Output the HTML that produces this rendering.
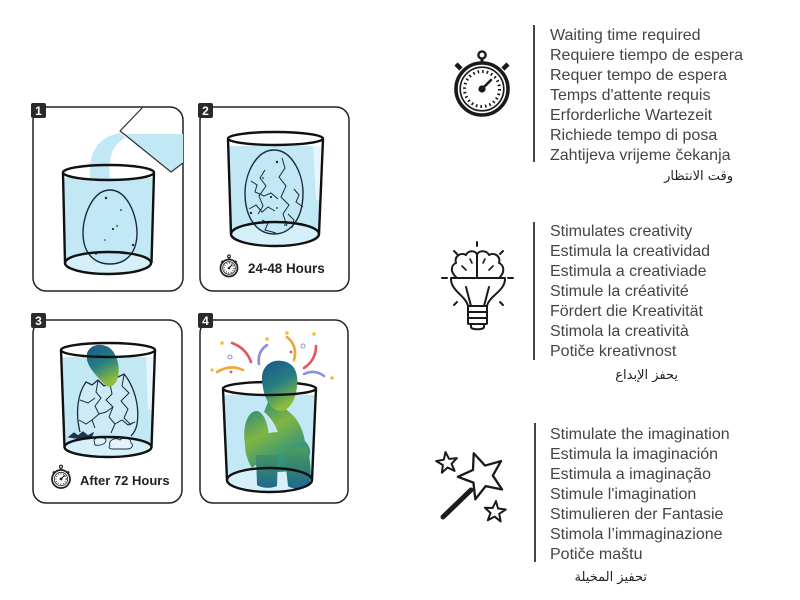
<!DOCTYPE html>
<html>
<head>
<meta charset="utf-8">
<style>
  html,body{margin:0;padding:0;background:#fff;}
  body{width:800px;height:600px;position:relative;overflow:hidden;font-family:"Liberation Sans",sans-serif;}
  svg{position:absolute;left:0;top:0;}
  .grp{position:absolute;left:550px;font-size:16px;line-height:20px;color:#444;white-space:nowrap;}
  .ar{position:absolute;font-family:"DejaVu Sans",sans-serif;font-size:13px;line-height:16px;color:#222;direction:rtl;white-space:nowrap;}
</style>
</head>
<body>
<svg width="800" height="600" viewBox="0 0 800 600" xmlns="http://www.w3.org/2000/svg">
  <defs>
    <linearGradient id="dh" x1="0" y1="0" x2="0.4" y2="1">
      <stop offset="0" stop-color="#1c5688"/>
      <stop offset="0.55" stop-color="#267f82"/>
      <stop offset="1" stop-color="#8fbd3a"/>
    </linearGradient>
    <linearGradient id="db" gradientUnits="userSpaceOnUse" x1="240" y1="360" x2="315" y2="490">
      <stop offset="0" stop-color="#1c5a8a"/>
      <stop offset="0.3" stop-color="#2a8a7c"/>
      <stop offset="0.5" stop-color="#7fb640"/>
      <stop offset="0.7" stop-color="#3a957a"/>
      <stop offset="1" stop-color="#1d6a92"/>
    </linearGradient>
    <linearGradient id="dl" gradientUnits="userSpaceOnUse" x1="0" y1="445" x2="0" y2="490">
      <stop offset="0" stop-color="#4ea05a"/>
      <stop offset="1" stop-color="#1d6590"/>
    </linearGradient>
  </defs>

  <!-- ===== Panels ===== -->
  <g fill="#fff" stroke="#222" stroke-width="1.5">
    <rect x="33" y="107" width="150" height="184" rx="13"/>
    <rect x="200" y="107" width="149" height="184" rx="13"/>
    <rect x="33" y="320" width="149" height="183" rx="13"/>
    <rect x="200" y="320" width="148" height="183" rx="13"/>
  </g>

  <!-- ===== Panel 1 ===== -->
  <path d="M64,178 L153,178 L152,263 A43,11 0 0 1 65,263 Z" fill="#c3e8f5"/>
  <ellipse cx="108" cy="263" rx="43" ry="11" fill="#d6f0fa"/>
  <path d="M120,133 C98,137 88,152 90,178 L110,178 C108,160 112,143 126,138 Z" fill="#c3e8f5"/>
  <path d="M124,134 L183,134 L183,163 L171,172 Z" fill="#c3e8f5"/>
  <path d="M143,107 L120,131 L124,134 L171,172 L183,163" fill="none" stroke="#333" stroke-width="1.2" stroke-linejoin="round"/>
  <path d="M110,190 C127,190 137,215 137,233 C137,253 126,264 110,264 C94,264 83,253 83,233 C83,215 93,190 110,190 Z" fill="#c3e8f5" stroke="#1b2b3b" stroke-width="1.4"/>
  <g fill="#1b2b3b">
    <circle cx="106" cy="198" r="1.2"/><circle cx="121" cy="210" r="0.9"/><circle cx="117" cy="226" r="0.9"/>
    <circle cx="113" cy="229" r="1.1"/><circle cx="105" cy="240" r="0.8"/><circle cx="133" cy="245" r="1.2"/><circle cx="96" cy="254" r="0.9"/>
  </g>
  <g fill="none" stroke="#111" stroke-width="2.4">
    <ellipse cx="108.5" cy="172.5" rx="45.5" ry="7.5"/>
    <line x1="63" y1="173" x2="65" y2="263"/>
    <line x1="154" y1="173" x2="151.5" y2="263"/>
    <ellipse cx="108" cy="263" rx="43" ry="11"/>
  </g>

  <!-- ===== Panel 2 ===== -->
  <path d="M229,146 L322,146 L319,234 A44,12 0 0 1 231,234 Z" fill="#c3e8f5"/>
  <path d="M313,146 L322,146 L320,200 L316,200 Z" fill="#e6f6fc"/>
  <ellipse cx="275" cy="234" rx="44" ry="12" fill="#d6f0fa"/>
  <path d="M274,150 C292,150 303,174 303,193 C303,218 291,234 274,234 C257,234 245,218 245,193 C245,174 256,150 274,150 Z" fill="#c3e8f5" stroke="#1b2b3b" stroke-width="1.4"/>
  <g fill="none" stroke="#1b2b3b" stroke-width="1">
    <polyline points="282,158 285,168 279,177 286,186 281,197 289,205 283,214 287,226"/>
    <polyline points="265,170 260,178 266,186 259,196 263,206 258,214"/>
    <polyline points="251,181 257,185 255,192 264,196 271,193 278,199"/>
    <polyline points="294,189 299,195 296,202 303,207"/>
    <polyline points="249,209 256,205 262,212 268,207 275,211"/>
    <polyline points="262,220 268,223 265,230 276,233"/>
    <polyline points="288,214 294,220 292,228"/>
  </g>
  <g fill="#1b2b3b">
    <circle cx="277" cy="162" r="1.2"/><circle cx="263" cy="178" r="0.9"/><circle cx="271" cy="197" r="1.1"/>
    <circle cx="251" cy="213" r="1.2"/><circle cx="277" cy="208" r="0.9"/><circle cx="285" cy="225" r="0.9"/>
  </g>
  <g fill="none" stroke="#111" stroke-width="2.4">
    <ellipse cx="275.5" cy="138.5" rx="47.5" ry="6.5"/>
    <line x1="228" y1="139" x2="231" y2="234"/>
    <line x1="323" y1="139" x2="319" y2="234"/>
    <ellipse cx="275" cy="234" rx="44" ry="12"/>
  </g>
  <g fill="none" stroke="#222">
    <circle cx="229" cy="268" r="8.5" stroke-width="1.8" fill="#fff"/>
    <circle cx="229" cy="268" r="6.3" stroke-width="0.8"/>
    <circle cx="229" cy="268" r="4.8" stroke-width="1.4" stroke-dasharray="0.7 1.8"/>
    <line x1="229" y1="268" x2="232.5" y2="264.5" stroke-width="1.2"/>
    <line x1="229" y1="259.5" x2="229" y2="257.5" stroke-width="1.5"/>
    <circle cx="229" cy="256.3" r="1.4" stroke-width="1.1"/>
    <line x1="221.5" y1="261" x2="223.5" y2="263" stroke-width="2"/>
    <line x1="236.5" y1="261" x2="234.5" y2="263" stroke-width="2"/>
  </g>
  <circle cx="229" cy="268" r="1.3" fill="#222"/>
  <text x="248" y="273" font-family="Liberation Sans, sans-serif" font-weight="bold" font-size="13.4" fill="#222">24-48 Hours</text>

  <!-- ===== Panel 3 ===== -->
  <path d="M62,357 L154,357 L151.5,447 A43.5,10 0 0 1 64.5,447 Z" fill="#c3e8f5"/>
  <path d="M146,357 L154,357 L152.5,410 L148,410 Z" fill="#e6f6fc"/>
  <ellipse cx="108" cy="447" rx="43.5" ry="10" fill="#d6f0fa"/>
  <path d="M80,432 C75,412 78,393 86,382 L92,385 L98,380 L104,386 L110,383 L116,378 L124,374 C134,386 140,406 137,424 C136,430 134,433 131,436" fill="#cdebf6" stroke="#1b2b3b" stroke-width="1.3"/>
  <g fill="none" stroke="#1b2b3b" stroke-width="1">
    <polyline points="98,381 96,392 101,398 95,406 99,414 92,420 95,428"/>
    <polyline points="110,384 112,394 106,400 113,407 109,417 115,424 111,433"/>
    <polyline points="124,375 122,386 129,393 121,401 128,409 124,418 131,425"/>
    <polyline points="80,400 88,403 95,398"/>
    <polyline points="99,414 106,412 113,407"/>
    <polyline points="115,424 122,420 128,425 135,422"/>
    <polyline points="79,420 86,424 92,420"/>
  </g>
  <path d="M110,446 C108,440 115,437 120,440 C124,436 131,438 131,443 C134,445 132,449 127,449 L113,449 C109,449 108,447 110,446 Z" fill="#e2f4fb" stroke="#1b2b3b" stroke-width="0.9"/>
  <path d="M94,440 C97,436 104,436 106,440 C106,444 100,446 95,445 Z" fill="#e2f4fb" stroke="#1b2b3b" stroke-width="0.9"/>
  <path d="M69,437 L74,433 L78,436 L83,432 L88,436 L93,433 L91,438 L84,439 L76,438 Z" fill="#1d3448" stroke="#1d3448" stroke-width="1.2"/>
  <path d="M87,353 C91,343 104,343 111,349 C118,356 121,370 117,380 C114,387 108,389 104,384 C98,377 89,369 87,360 Z" fill="url(#dh)"/>
  <g fill="none" stroke="#111" stroke-width="2.4">
    <ellipse cx="108" cy="350" rx="47" ry="7"/>
    <line x1="61" y1="350" x2="64.5" y2="447"/>
    <line x1="155" y1="350" x2="151.5" y2="447"/>
    <ellipse cx="108" cy="447" rx="43.5" ry="10"/>
  </g>
  <g fill="none" stroke="#222">
    <circle cx="61" cy="479" r="9" stroke-width="1.8" fill="#fff"/>
    <circle cx="61" cy="479" r="6.7" stroke-width="0.8"/>
    <circle cx="61" cy="479" r="5.1" stroke-width="1.4" stroke-dasharray="0.7 1.9"/>
    <line x1="61" y1="479" x2="64.8" y2="475.2" stroke-width="1.2"/>
    <line x1="61" y1="470" x2="61" y2="468" stroke-width="1.5"/>
    <circle cx="61" cy="466.7" r="1.5" stroke-width="1.1"/>
    <line x1="53" y1="471.5" x2="55" y2="473.5" stroke-width="2"/>
    <line x1="69" y1="471.5" x2="67" y2="473.5" stroke-width="2"/>
  </g>
  <circle cx="61" cy="479" r="1.4" fill="#222"/>
  <text x="80" y="485" font-family="Liberation Sans, sans-serif" font-weight="bold" font-size="13" fill="#222">After 72 Hours</text>

  <!-- ===== Panel 4 ===== -->
  <path d="M224,395 L315,395 L312,480 A42.5,12 0 0 1 227,480 Z" fill="#c3e8f5"/>
  <ellipse cx="269.5" cy="480" rx="42.5" ry="12" fill="#d6f0fa"/>
  <path d="M223,388.5 A46.5,6.5 0 0 1 316,388.5" fill="none" stroke="#111" stroke-width="2.4"/>
  <g fill="none" stroke-width="2.6" stroke-linecap="round">
    <path d="M232,343 Q246,348 251,362" stroke="#e0585e"/>
    <path d="M267,345 Q257,352 259,364" stroke="#8b8fdc"/>
    <path d="M287,337 Q298,346 294,360" stroke="#f0a534"/>
    <path d="M316,346 Q316,360 304,368" stroke="#e0585e"/>
    <path d="M304,374 Q315,369 324,376" stroke="#8b8fdc"/>
    <path d="M217,372 Q230,364 243,370" stroke="#f0a534"/>
  </g>
  <g fill="#f4bf2e">
    <circle cx="222" cy="343" r="1.8"/><circle cx="267" cy="339" r="1.8"/><circle cx="287" cy="333" r="1.8"/>
    <circle cx="314" cy="334" r="1.8"/><circle cx="332" cy="378" r="1.8"/><circle cx="212" cy="370" r="1.6"/>
  </g>
  <g fill="none" stroke="#8b8fdc" stroke-width="1">
    <circle cx="230" cy="357" r="2"/><circle cx="303" cy="346" r="2"/>
  </g>
  <g fill="#e0585e"><circle cx="231" cy="372" r="1.4"/><circle cx="291" cy="352" r="1.4"/></g>
  <!-- dino -->
  <g fill="url(#db)">
    <path d="M245,445 C242,425 248,411 257,411 C266,413 270,430 270,452 L252,468 C247,460 245,452 245,445 Z"/>
    <ellipse cx="279" cy="452" rx="31" ry="20"/>
    <path d="M268,402 C288,406 302,420 305,442 L282,452 C280,432 274,420 264,412 Z"/>
  </g>
  <g fill="url(#dl)">
    <path d="M256,455 L278,455 L277,486 C270,489 261,488 257,485 Z"/>
    <path d="M284,450 L307,446 C311,462 312,478 309,486 C301,490 292,489 288,486 Z"/>
  </g>
  <path d="M262,380 C261,366 272,359 282,361 C293,362 299,372 297,386 C296,399 290,411 280,411 C269,410 263,395 262,380 Z" fill="url(#dh)"/>
  <g fill="none" stroke="#111" stroke-width="2.4">
    <path d="M316,388.5 A46.5,6.5 0 0 1 223,388.5"/>
    <line x1="223" y1="389" x2="227" y2="480"/>
    <line x1="316" y1="389" x2="312" y2="480"/>
    <ellipse cx="269.5" cy="480" rx="42.5" ry="12"/>
  </g>

  <!-- ===== Badges ===== -->
  <g fill="#2a2a2a">
    <rect x="31" y="103" width="15" height="15" rx="2"/>
    <rect x="198" y="103" width="15" height="15" rx="2"/>
    <rect x="31" y="313" width="15" height="15" rx="2"/>
    <rect x="198" y="313" width="15" height="15" rx="2"/>
  </g>
  <g fill="#fff" font-family="Liberation Sans, sans-serif" font-weight="bold" font-size="12" text-anchor="middle">
    <text x="38.5" y="115">1</text>
    <text x="205.5" y="115">2</text>
    <text x="38.5" y="325">3</text>
    <text x="205.5" y="325">4</text>
  </g>

  <!-- ===== Vertical dividers ===== -->
  <g stroke="#444" stroke-width="2">
    <line x1="534" y1="25" x2="534" y2="162"/>
    <line x1="534" y1="222" x2="534" y2="360"/>
    <line x1="535" y1="423" x2="535" y2="562"/>
  </g>

  <!-- ===== Big stopwatch icon ===== -->
  <g fill="none" stroke="#1a1a1a">
    <line x1="482" y1="59" x2="482" y2="63" stroke-width="3"/>
    <circle cx="482" cy="55" r="3.6" stroke-width="2.4" fill="#fff"/>
    <line x1="456" y1="64" x2="461" y2="69" stroke-width="4.5"/>
    <line x1="508" y1="64" x2="503" y2="69" stroke-width="4.5"/>
    <circle cx="482" cy="89" r="26" stroke-width="3.6" fill="#fff"/>
    <circle cx="482" cy="89" r="21.8" stroke-width="1.6"/>
    <circle cx="482" cy="89" r="17.5" stroke-width="3" stroke-dasharray="1.6 2.98"/>
    <line x1="482" y1="89" x2="491" y2="80" stroke-width="2.6" stroke-linecap="round"/>
  </g>
  <circle cx="482" cy="89" r="3.6" fill="#1a1a1a"/>

  <!-- ===== Lightbulb icon ===== -->
  <g fill="none" stroke="#1a1a1a" stroke-width="2" stroke-linecap="round" stroke-linejoin="round">
    <line x1="477" y1="242" x2="477" y2="246"/>
    <line x1="454" y1="251" x2="457" y2="254"/>
    <line x1="503" y1="251" x2="500" y2="254"/>
    <line x1="454" y1="305" x2="457" y2="302"/>
    <line x1="503" y1="305" x2="500" y2="302"/>
    <line x1="442" y1="278" x2="447" y2="278"/>
    <line x1="508" y1="278" x2="513" y2="278"/>
    <line x1="451" y1="278" x2="505" y2="278"/>
    <path d="M456,277 C450,272 451,265 456,263 C454,256 461,252 466,255 C468,250 476,250 477,255 C478,250 487,250 489,255 C494,252 501,256 499,263 C504,265 505,272 500,277"/>
    <line x1="477" y1="255" x2="477" y2="277"/>
    <path d="M462,266 L466,270 M493,266 L489,270 M470,259 L472,263 M485,259 L483,263" stroke-width="1.6"/>
    <path d="M451,279 C451,291 466,296 468,306 L487,306 C489,296 505,291 505,279"/>
    <line x1="466" y1="287" x2="471" y2="306"/>
    <line x1="489" y1="287" x2="484" y2="306"/>
    <rect x="468" y="306" width="19" height="18" rx="1"/>
    <line x1="468" y1="312" x2="487" y2="312"/>
    <line x1="468" y1="318" x2="487" y2="318"/>
    <path d="M471,324 L471,327 C471,330 484,330 484,327 L484,324"/>
  </g>

  <!-- ===== Magic wand icon ===== -->
  <line x1="443" y1="517" x2="471" y2="490" stroke="#1a1a1a" stroke-width="5" stroke-linecap="round"/>
  <g fill="#fff" stroke="#1a1a1a" stroke-linejoin="round">
    <polygon points="0,-11 2.7,-3.72 10.46,-3.4 4.37,1.42 6.47,8.9 0,4.6 -6.47,8.9 -4.37,1.42 -10.46,-3.4 -2.7,-3.72" transform="translate(447,463) rotate(-8)" stroke-width="2"/>
    <polygon points="0,-11 2.7,-3.72 10.46,-3.4 4.37,1.42 6.47,8.9 0,4.6 -6.47,8.9 -4.37,1.42 -10.46,-3.4 -2.7,-3.72" transform="translate(495,512) rotate(5)" stroke-width="2"/>
    <polygon points="0,-11 2.9,-4 10.46,-3.4 4.7,1.5 6.47,8.9 0,4.9 -6.47,8.9 -4.7,1.5 -10.46,-3.4 -2.9,-4" transform="translate(482,476) rotate(-20) scale(2.2)" stroke-width="2.3" vector-effect="non-scaling-stroke"/>
  </g>
</svg>

<div class="grp" style="top:25.5px;">Waiting time required<br>Requiere tiempo de espera<br>Requer tempo de espera<br>Temps d'attente requis<br>Erforderliche Wartezeit<br>Richiede tempo di posa<br>Zahtijeva vrijeme čekanja</div>
<div class="ar" style="right:67px;top:169px;">وقت الانتظار</div>

<div class="grp" style="top:221.5px;">Stimulates creativity<br>Estimula la creatividad<br>Estimula a creativiade<br>Stimule la créativité<br>Fördert die Kreativität<br>Stimola la creatività<br>Potiče kreativnost</div>
<div class="ar" style="right:122px;top:368px;">يحفز الإبداع</div>

<div class="grp" style="top:424.5px;">Stimulate the imagination<br>Estimula la imaginación<br>Estimula a imaginação<br>Stimule l'imagination<br>Stimulieren der Fantasie<br>Stimola l’immaginazione<br>Potiče maštu</div>
<div class="ar" style="right:153px;top:570px;">تحفيز المخيلة</div>
</body>
</html>
